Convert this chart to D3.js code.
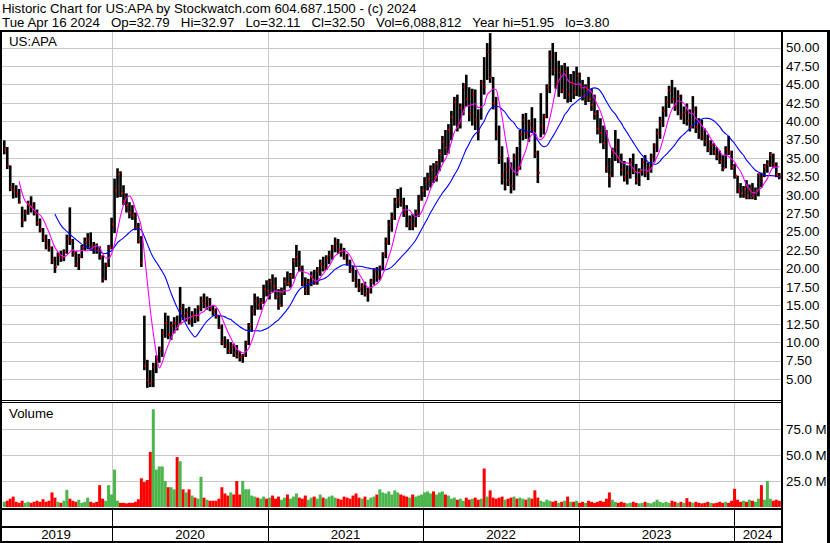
<!DOCTYPE html>
<html><head><meta charset="utf-8">
<script src="https://cdn.jsdelivr.net/npm/d3@7"></script>
<style>
body{margin:0;background:#fff}
svg{display:block;font-family:"Liberation Sans",Arial,sans-serif}
</style>
</head><body>
<svg id="chart" width="830" height="543"></svg>
<script>
// ---------------- data (weekly) ----------------
const lastDate = "2024-04-16";
const weekHigh = [
37.4,36.5,34.0,31.6,31.3,30.8,28.4,28.0,29.2,29.8,
29.0,28.0,26.8,25.5,24.6,24.0,23.0,21.6,22.2,22.4,
22.6,24.6,28.3,24.0,22.4,22.0,23.2,24.2,24.8,24.9,
23.6,23.4,23.0,21.8,20.8,23.2,26.9,32.2,33.6,33.2,
31.3,30.2,29.0,28.6,27.6,26.2,24.4,13.6,7.6,6.2,
7.2,8.2,9.4,11.8,14.0,13.6,12.8,13.4,13.6,17.5,
15.2,14.6,14.8,14.2,14.6,15.0,16.2,16.6,16.2,16.0,
15.0,14.6,13.6,12.4,10.8,10.4,10.0,9.8,9.6,8.8,
8.4,10.2,12.6,15.0,16.6,16.2,16.0,17.8,18.4,18.6,
19.2,18.8,17.2,17.4,18.8,19.6,19.4,21.4,23.2,22.4,
20.4,18.8,18.6,19.6,19.8,20.2,21.2,21.6,21.8,22.4,
23.2,24.2,24.0,23.4,22.8,22.0,21.2,20.4,19.8,18.6,
18.0,18.2,17.4,18.6,20.0,20.2,20.4,22.2,24.2,26.6,
27.6,29.6,30.8,31.0,29.6,28.6,27.2,27.4,28.0,30.0,
31.2,32.4,33.0,34.0,34.3,34.6,36.2,38.0,38.8,39.6,
41.4,43.3,43.6,42.4,45.2,46.3,44.6,44.4,44.3,41.6,
45.6,48.7,50.6,51.95,46.0,43.3,39.4,36.6,34.4,35.1,
34.4,35.6,36.5,38.8,41.0,41.1,40.2,41.9,40.4,36.0,
43.8,41.0,45.0,49.6,50.6,49.4,48.2,47.6,47.9,47.4,
46.4,46.8,47.4,46.6,45.6,45.0,46.0,44.4,43.6,41.5,
40.4,39.4,38.8,35.0,36.4,38.8,37.6,35.6,34.6,34.0,
35.0,35.6,34.2,33.6,35.0,35.4,34.4,35.6,37.0,39.0,
40.6,42.0,43.4,44.8,45.6,44.6,44.2,43.6,42.0,42.4,
41.6,43.4,42.0,40.4,40.2,39.0,38.2,37.4,37.0,36.5,
36.0,35.4,36.6,38.0,36.0,34.2,32.6,31.6,31.2,32.0,
31.4,31.6,31.0,32.9,33.0,34.2,34.7,35.8,35.6,34.4,32.97
];
const weekLow = [
35.5,33.5,30.5,29.5,29.6,28.8,25.6,26.4,27.3,27.6,
27.2,25.8,24.9,23.6,22.6,22.3,20.6,19.4,20.4,20.9,
21.0,22.0,23.2,21.6,20.2,19.8,21.4,22.4,22.6,22.4,
22.0,22.0,21.2,18.1,18.4,20.2,22.6,24.8,29.6,29.7,
28.6,27.6,26.8,26.6,25.2,23.4,20.2,6.2,3.8,3.9,
3.9,5.8,7.2,8.0,10.6,10.4,10.3,11.2,11.6,12.4,
13.0,12.8,12.4,12.1,12.6,12.8,14.2,14.6,14.4,14.2,
13.6,13.2,11.8,9.6,9.2,8.4,8.4,8.0,7.8,7.4,
7.2,8.0,9.6,11.4,13.6,14.4,14.4,15.2,16.2,15.8,
16.8,15.8,14.4,14.8,16.4,17.6,17.4,18.6,20.2,19.6,
17.6,16.4,16.4,17.6,17.8,17.8,19.0,19.6,19.8,20.6,
21.2,22.2,22.0,21.6,21.2,20.4,19.4,18.2,17.4,16.8,
16.4,16.2,15.5,16.6,17.8,18.2,18.4,19.8,21.4,23.2,
25.0,26.6,28.2,28.4,27.0,25.6,25.2,25.2,25.6,27.0,
29.2,29.7,30.6,31.0,31.6,31.8,33.2,34.4,35.4,35.6,
37.4,39.4,38.6,39.0,40.8,42.0,40.0,39.4,38.8,37.4,
40.2,43.6,45.6,45.2,41.6,37.4,34.2,31.4,30.6,31.2,
30.2,30.6,32.6,33.4,37.4,37.6,37.2,38.4,35.0,31.6,
37.8,38.2,40.4,43.8,46.2,44.4,43.3,43.8,43.0,42.5,
42.6,43.0,43.4,43.3,42.8,42.2,42.6,41.4,40.2,38.2,
37.0,36.2,33.0,31.0,32.4,34.6,34.3,32.6,31.8,31.4,
32.2,32.8,31.4,31.2,32.6,32.4,32.0,33.0,34.4,35.8,
37.6,39.2,40.6,41.8,42.4,41.4,40.8,40.2,39.6,39.4,
38.6,39.0,38.4,37.6,37.4,36.6,35.8,35.4,35.4,34.7,
34.2,33.2,33.6,35.4,33.4,32.2,30.2,29.6,29.6,29.4,
29.4,29.4,29.3,29.8,31.0,32.4,33.0,33.8,33.6,32.4,32.11
];
const weekClose = [
36.2,34.0,31.0,30.6,30.2,29.0,26.5,27.6,28.6,28.4,
27.6,26.2,25.3,24.2,23.4,22.8,21.2,20.2,21.8,21.4,
22.2,24.0,23.8,22.0,20.6,21.6,22.8,23.6,24.0,23.0,
22.6,22.4,21.6,18.6,20.4,22.8,26.0,30.6,32.8,30.2,
29.2,28.6,27.6,27.2,25.6,23.8,20.8,6.8,4.8,4.4,
6.6,7.6,8.8,11.2,12.6,11.0,12.2,12.6,12.2,14.6,
13.6,14.0,12.8,13.6,13.2,14.6,15.6,15.2,15.8,14.6,
14.2,13.6,12.0,10.0,9.6,8.8,9.4,8.6,8.2,8.0,
8.2,9.8,12.2,14.2,15.6,15.0,15.4,17.2,17.0,18.2,
17.6,16.2,15.0,16.8,18.2,18.0,19.0,21.0,21.6,20.2,
18.0,17.0,18.2,18.8,18.2,19.6,20.6,20.2,21.4,21.8,
22.8,23.4,22.6,22.2,21.6,20.8,19.8,18.6,17.8,17.2,
17.6,16.6,16.8,18.2,19.6,18.8,20.0,21.8,23.6,26.0,
27.0,29.0,29.4,28.8,27.6,26.0,26.6,25.8,27.6,29.4,
30.6,31.8,32.2,33.4,32.4,34.2,35.6,37.2,36.4,38.8,
40.6,42.6,39.6,41.8,44.6,43.0,41.0,43.6,40.2,38.6,
45.2,44.6,49.4,46.0,42.4,38.2,35.0,32.6,33.4,32.0,
31.2,35.0,33.6,38.2,40.2,38.4,39.6,39.0,35.6,33.0,
39.4,40.6,44.6,48.8,47.0,45.2,46.6,44.2,46.8,43.6,
45.2,44.0,46.2,44.6,43.4,44.4,43.0,42.2,41.0,39.0,
38.4,37.0,33.6,32.6,35.8,36.4,35.0,33.4,32.4,33.0,
34.4,33.2,32.0,33.2,34.4,33.0,33.6,35.2,36.6,38.4,
40.0,41.4,42.6,44.2,43.0,42.0,43.4,40.8,41.2,40.0,
39.2,41.6,39.2,38.6,37.8,37.2,36.2,36.8,35.8,35.2,
34.6,33.6,36.2,35.8,33.8,32.6,30.6,30.2,30.8,29.8,
30.6,29.8,30.4,32.8,32.2,33.8,34.2,35.4,34.2,32.8,32.50
];
// volume in millions
const weekVolume = [
5,6,8,10,5,4,6,4,5,4,
5,6,5,7.5,5,6,14,9,5,4,
6,16.5,8,6,5,7,4,5,9,5,
4,5,21,8,6,21,12,36,6,4,
4,3.5,4,4,5,7.5,27.6,24,26,53,
94,36,39,39,25,19,19,17,48,44,
17,14,17,11,9,8,29,9,7,6,
6,6,8,19,13,11,14,12,25,12,
25,17,17,11,10,9,8,10,8,9,
11,8,10,7,9,12,8,10,13,9,
8,11,7,9,10,8,12,9,8,10,
11,9,8,7,10,9,8,11,13,9,
8,10,7,9,10,12,17,14,13,15,
12,16,14,12,11,10,9,12,10,11,
12,14,15,13,15,12,14,15,12,11,
8,9,7,8,6,9,7,8,9,7,
8,37,10,16,9,8,9,10,7,8,
9,10,8,9,8,7,9,8,16,9,
6,5,7,6,5,6,4,5,6,10,
5,5,6,4,5,4,6,5,4,5,
6,5,8,14,7,5,4,5,4,3.5,
4,5,4,3.5,4,5,4,3.5,5,7,
5,4,5,4,6,5,4,5,4,8.5,
5,4,5,4,3.5,4,5,4,3.5,4,
5,4,5,4,6,17.5,7,5,6,5,
7,6,5,8,21,7,25,8,6,7,6
];
const priceTicks = [5,7.5,10,12.5,15,17.5,20,22.5,25,27.5,30,32.5,35,37.5,40,42.5,45,47.5,50];
const volumeTicks = [25,50,75];
const yearLabels = ["2019","2020","2021","2022","2023","2024"];
const yearStarts = ["2020-01-01","2021-01-01","2022-01-01","2023-01-01","2024-01-01"];
const shortMAWeeks = 6, longMAWeeks = 18;
const headerLine1 = "Historic Chart for US:APA by Stockwatch.com 604.687.1500 - (c) 2024";
const headerLine2 = "Tue Apr 16 2024   Op=32.79   Hi=32.97   Lo=32.11   Cl=32.50   Vol=6,088,812   Year hi=51.95   lo=3.80";

// ---------------- drawing ----------------
const svg = d3.select("#chart");
const parse = d3.timeParse("%Y-%m-%d");
const N = weekClose.length;
const end = parse(lastDate);
const dates = d3.range(N).map(i => d3.timeDay.offset(end, -(N - 1 - i) * 7));
const bars = dates.map((d, i) => ({date: d, h: weekHigh[i], l: weekLow[i], c: weekClose[i], v: weekVolume[i],
  up: i === 0 ? true : weekClose[i] >= weekClose[i - 1]}));

const plotL = 0, plotR = 781;
const x = d3.scaleTime().domain([parse("2019-04-13"), parse("2024-04-20")]).range([plotL, plotR]);
const y = d3.scaleLinear().domain([5, 50]).range([379, 47.5]);
const yv = d3.scaleLinear().domain([0, 75]).range([507, 429]);
const gridColor = "#c8c8c8";
const fs = 13.3;

svg.append("rect").attr("width", 830).attr("height", 543).attr("fill", "#fff");

// header text
svg.append("text").attr("x", 2).attr("y", 13).attr("font-size", fs).attr("fill", "#000")
  .style("white-space", "pre").text(headerLine1);
svg.append("text").attr("x", 2).attr("y", 27).attr("font-size", fs).attr("fill", "#000")
  .style("white-space", "pre").text(headerLine2);

svg.append("defs").append("clipPath").attr("id", "pclip").append("rect")
  .attr("x", 2).attr("y", 32).attr("width", plotR - 2).attr("height", 368);

// price grid
const pg = svg.append("g");
pg.selectAll("line.h").data(priceTicks).join("line")
  .attr("x1", 2).attr("x2", plotR).attr("y1", d => Math.round(y(d)) + 0.5).attr("y2", d => Math.round(y(d)) + 0.5)
  .attr("stroke", gridColor);
const yearLines = yearStarts.map(parse);
pg.selectAll("line.v").data(yearLines).join("line")
  .attr("x1", d => Math.round(x(d)) + 0.5).attr("x2", d => Math.round(x(d)) + 0.5)
  .attr("y1", 32).attr("y2", 400).attr("stroke", gridColor);

// volume grid
const vg = svg.append("g");
vg.selectAll("line.h").data(volumeTicks).join("line")
  .attr("x1", 2).attr("x2", plotR).attr("y1", d => Math.round(yv(d)) + 0.5).attr("y2", d => Math.round(yv(d)) + 0.5)
  .attr("stroke", gridColor);
vg.selectAll("line.v").data(yearLines).join("line")
  .attr("x1", d => Math.round(x(d)) + 0.5).attr("x2", d => Math.round(x(d)) + 0.5)
  .attr("y1", 403).attr("y2", 508).attr("stroke", gridColor);

// price bars
const pb = svg.append("g").attr("clip-path", "url(#pclip)");
pb.selectAll("rect.bar").data(bars).join("rect")
  .attr("x", d => x(d.date) - 1.3).attr("width", 2.6)
  .attr("y", d => y(d.h)).attr("height", d => Math.max(1, y(d.l) - y(d.h)))
  .attr("fill", "#000");

// moving averages
function sma(n) {
  return bars.map((d, i) => i < n - 1 ? null : {date: d.date, v: d3.mean(weekClose.slice(i - n + 1, i + 1))}).filter(Boolean);
}
const line = d3.line().x(d => x(d.date)).y(d => y(d.v)).curve(d3.curveMonotoneX);
pb.append("path").datum(sma(longMAWeeks)).attr("d", line).attr("fill", "none").attr("stroke", "#0000ff").attr("stroke-width", 1.1);
pb.append("path").datum(sma(shortMAWeeks)).attr("d", line).attr("fill", "none").attr("stroke", "#ff00ff").attr("stroke-width", 1.1);

// close ticks
pb.selectAll("rect.cl").data(bars).join("rect")
  .attr("x", d => Math.round(x(d.date)) + 0.5).attr("width", 1.5)
  .attr("y", d => y(d.c) - 1).attr("height", 2).attr("fill", "#ff0000");

// volume bars
svg.append("g").selectAll("rect").data(bars).join("rect")
  .attr("x", d => x(d.date) - 1.5).attr("width", 3)
  .attr("y", d => yv(d.v)).attr("height", d => yv(0) - yv(d.v))
  .attr("fill", d => d.up ? "#4cb54c" : "#ff0000");

// axes (right side)
const pa = svg.append("g").attr("transform", `translate(${plotR + 1},0)`)
  .call(d3.axisRight(y).tickValues(priceTicks).tickFormat(d3.format(".2f")).tickSize(0).tickPadding(4));
const va = svg.append("g").attr("transform", `translate(${plotR + 1},0)`)
  .call(d3.axisRight(yv).tickValues(volumeTicks).tickFormat(d => d.toFixed(1) + " M").tickSize(0).tickPadding(4));
[pa, va].forEach(g => {
  g.select(".domain").remove();
  g.selectAll("text").attr("font-size", fs).attr("fill", "#000").attr("font-family", '"Liberation Sans",Arial,sans-serif');
});

// panel labels
svg.append("text").attr("x", 9).attr("y", 46).attr("font-size", fs).attr("fill", "#000").text("US:APA");
svg.append("text").attr("x", 9).attr("y", 418).attr("font-size", fs).attr("fill", "#000").text("Volume");

// year strip
const bounds = [0, ...yearLines.map(d => Math.round(x(d))), plotR];
svg.append("g").selectAll("text").data(yearLabels).join("text")
  .attr("x", (d, i) => (bounds[i] + bounds[i + 1]) / 2).attr("y", 539)
  .attr("text-anchor", "middle").attr("font-size", fs).attr("fill", "#000").text(d => d);
svg.append("g").selectAll("line").data(yearLines).join("line")
  .attr("x1", d => Math.round(x(d)) + 0.5).attr("x2", d => Math.round(x(d)) + 0.5)
  .attr("y1", 509).attr("y2", 542).attr("stroke", "#000");

// frame
const frame = svg.append("g").attr("fill", "#000");
frame.append("rect").attr("x", 0).attr("y", 30).attr("width", 830).attr("height", 2);      // header rule
frame.append("rect").attr("x", 0).attr("y", 31).attr("width", 2).attr("height", 512);      // left
frame.append("rect").attr("x", plotR).attr("y", 31).attr("width", 2).attr("height", 512);  // axis line
frame.append("rect").attr("x", 827).attr("y", 31).attr("width", 3).attr("height", 512);    // right edge
frame.append("rect").attr("x", 0).attr("y", 400).attr("width", plotR).attr("height", 1);   // double separator
frame.append("rect").attr("x", 0).attr("y", 402).attr("width", plotR).attr("height", 1);
frame.append("rect").attr("x", 0).attr("y", 508).attr("width", plotR).attr("height", 2);
frame.append("rect").attr("x", 0).attr("y", 526).attr("width", plotR).attr("height", 2);
frame.append("rect").attr("x", 0).attr("y", 541).attr("width", plotR).attr("height", 2);
</script>
</body></html>
